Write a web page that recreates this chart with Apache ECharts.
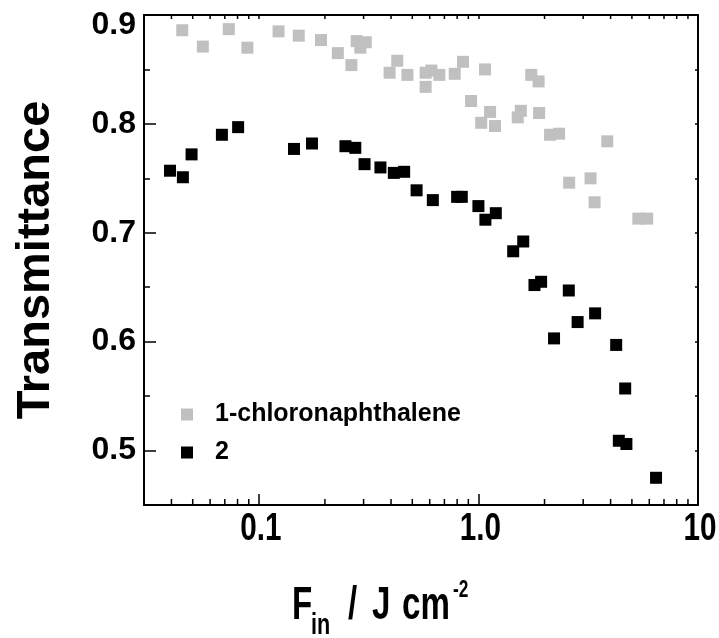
<!DOCTYPE html>
<html>
<head>
<meta charset="utf-8">
<script src="https://cdn.jsdelivr.net/npm/echarts@6/dist/echarts.min.js"></script>
<style>html,body{margin:0;padding:0;background:#fff;}#c{width:719px;height:638px;}</style>
</head>
<body>
<div id="c"></div>
<script>
// ---- data ----
const seriesNames = ['1-chloronaphthalene', '2'];
const grayX = [0.0448, 0.0556, 0.0730, 0.0887, 0.123, 0.152, 0.192, 0.229, 0.264, 0.279, 0.290, 0.307, 0.394, 0.427, 0.475, 0.575, 0.575, 0.611, 0.664, 0.780, 0.851, 0.926, 1.03, 1.072, 1.13, 1.19, 1.51, 1.56, 1.74, 1.88, 1.89, 2.12, 2.33, 2.59, 3.24, 3.38, 3.86, 5.35, 5.87];
const grayY = [0.886, 0.871, 0.887, 0.870, 0.885, 0.881, 0.877, 0.865, 0.854, 0.876, 0.870, 0.875, 0.847, 0.858, 0.845, 0.847, 0.834, 0.849, 0.845, 0.846, 0.857, 0.821, 0.801, 0.850, 0.811, 0.798, 0.806, 0.812, 0.845, 0.839, 0.810, 0.790, 0.791, 0.746, 0.750, 0.728, 0.784, 0.713, 0.713];
const blackX = [0.0394, 0.0451, 0.0494, 0.0679, 0.0805, 0.1446, 0.1746, 0.248, 0.275, 0.303, 0.358, 0.412, 0.459, 0.523, 0.620, 0.80, 0.84, 1.0, 1.076, 1.20, 1.44, 1.60, 1.80, 1.93, 2.21, 2.58, 2.83, 3.40, 4.24, 4.36, 4.66, 4.72, 6.44];
const blackY = [0.757, 0.751, 0.772, 0.790, 0.797, 0.777, 0.782, 0.7795, 0.778, 0.763, 0.760, 0.755, 0.756, 0.739, 0.730, 0.733, 0.733, 0.7245, 0.712, 0.718, 0.683, 0.692, 0.652, 0.655, 0.603, 0.647, 0.618, 0.626, 0.597, 0.509, 0.557, 0.506, 0.475];
const xTickValues = [0.1, 1, 10];
const xTickLabels = ['0.1', '1.0', '10'];
const yTickValues = [0.5, 0.6, 0.7, 0.8, 0.9];
const yTickLabels = ['0.5', '0.6', '0.7', '0.8', '0.9'];
const xMinorTicks = [0.04, 0.05, 0.06, 0.07, 0.08, 0.09, 0.2, 0.3, 0.4, 0.5, 0.6, 0.7, 0.8, 0.9, 2, 3, 4, 5, 6, 7, 8, 9];

const X_MIN = 0.03, X_MAX = 10, Y_MIN = 0.45, Y_MAX = 0.9;
const FONT = 'Liberation Sans, Arial, sans-serif';

function zip(xs, ys) { return xs.map((x, i) => [x, ys[i]]); }
function yLabel(v) {
  for (let i = 0; i < yTickValues.length; i++) {
    if (Math.abs(v - yTickValues[i]) < 1e-6) {
      return i === yTickValues.length - 1 ? '{top|' + yTickLabels[i] + '}' : yTickLabels[i];
    }
  }
  return '';
}

const chart = echarts.init(document.getElementById('c'), null, {renderer: 'canvas'});
const axisLine = {show: true, onZero: false, lineStyle: {color: '#000', width: 2}};

function minorTickRender(yVal, len) {
  return function (params, api) {
    const p = api.coord([api.value(0), yVal]);
    return {type: 'line', shape: {x1: p[0], y1: p[1], x2: p[0], y2: p[1] + len},
      style: {stroke: '#000', lineWidth: 1.5}, silent: true};
  };
}

chart.setOption({
  animation: false,
  backgroundColor: '#fff',
  grid: {left: 144, right: 21, top: 15, bottom: 133, containLabel: false},
  legend: {
    data: seriesNames,
    orient: 'vertical', left: 176, top: 397, itemGap: 13,
    itemWidth: 12, itemHeight: 12, icon: 'rect',
    textStyle: {fontFamily: FONT, fontWeight: 'bold', fontSize: 25, color: '#000', padding: [0, 0, 0, 17]}
  },
  xAxis: [
    {type: 'log', logBase: 10, min: X_MIN, max: X_MAX, position: 'bottom',
     axisLine: axisLine,
     axisTick: {show: true, inside: true, length: 11, lineStyle: {color: '#000', width: 1.5}},
     splitLine: {show: false},
     axisLabel: {show: false}},
    {type: 'log', logBase: 10, min: X_MIN, max: X_MAX, position: 'top',
     axisLine: axisLine,
     axisTick: {show: true, inside: true, length: 4, lineStyle: {color: '#000', width: 1.5}},
     splitLine: {show: false}, axisLabel: {show: false}}
  ],
  yAxis: [
    {type: 'value', min: Y_MIN, max: Y_MAX, position: 'left',
     axisLine: axisLine,
     axisTick: {show: true, inside: true, length: 12, lineStyle: {color: '#000', width: 1.5}},
     splitLine: {show: false},
     axisLabel: {formatter: yLabel, fontFamily: FONT, fontWeight: 'bold', fontSize: 32, color: '#000', margin: 8,
       rich: {top: {fontFamily: FONT, fontWeight: 'bold', fontSize: 32, color: '#000', padding: [20, 0, 0, 0]}}},
     name: 'Transmittance', nameLocation: 'middle', nameGap: 84,
     nameTextStyle: {fontFamily: FONT, fontWeight: 'bold', fontSize: 47, color: '#000'}},
    {type: 'value', min: Y_MIN, max: Y_MAX, interval: 0.05, position: 'left',
     axisLine: {show: false},
     axisTick: {show: true, inside: true, length: 6, lineStyle: {color: '#000', width: 1.5}},
     splitLine: {show: false}, axisLabel: {show: false}},
    {type: 'value', min: Y_MIN, max: Y_MAX, interval: 0.05, position: 'right',
     axisLine: axisLine,
     axisTick: {show: true, inside: true, length: 3, lineStyle: {color: '#000', width: 1.5}},
     splitLine: {show: false}, axisLabel: {show: false}}
  ],
  series: [
    {name: seriesNames[0], type: 'scatter', symbol: 'rect', symbolSize: 12,
     itemStyle: {color: '#c0c0c0', opacity: 1}, data: zip(grayX, grayY), z: 3},
    {name: seriesNames[1], type: 'scatter', symbol: 'rect', symbolSize: 12,
     itemStyle: {color: '#000', opacity: 1}, data: zip(blackX, blackY), z: 4},
    {type: 'custom', name: 'minorBottom', renderItem: minorTickRender(Y_MIN, -6),
     data: xMinorTicks.map(v => [v]), encode: {x: 0}, silent: true, z: 5, clip: false},
    {type: 'custom', name: 'minorTop', renderItem: minorTickRender(Y_MAX, 4),
     data: xMinorTicks.map(v => [v]), encode: {x: 0}, silent: true, z: 5, clip: false}
  ]
});

// x tick labels: condensed bold text placed at positions given by the axis scale
const graphics = [];
xTickValues.forEach((v, i) => {
  const px = chart.convertToPixel({xAxisIndex: 0}, v);
  graphics.push({type: 'text', id: 'xt' + i, x: px + 2, y: 530, scaleX: 0.78,
    style: {text: xTickLabels[i], font: 'bold 38px ' + FONT, fill: '#000', align: 'center', verticalAlign: 'middle'}});
});
graphics.push(
  {type: 'text', id: 't1', x: 292, y: 606, scaleX: 0.72, style: {text: 'F', font: 'bold 46px ' + FONT, fill: '#000', align: 'left', verticalAlign: 'middle'}},
  {type: 'text', id: 't2', x: 311, y: 626, scaleX: 0.72, style: {text: 'in', font: 'bold 30px ' + FONT, fill: '#000', align: 'left', verticalAlign: 'middle'}},
  {type: 'text', id: 't3', x: 348, y: 606, scaleX: 0.72, style: {text: '/', font: 'bold 46px ' + FONT, fill: '#000', align: 'left', verticalAlign: 'middle'}},
  {type: 'text', id: 't4', x: 372, y: 606, scaleX: 0.72, style: {text: 'J', font: 'bold 46px ' + FONT, fill: '#000', align: 'left', verticalAlign: 'middle'}},
  {type: 'text', id: 't5', x: 402, y: 606, scaleX: 0.72, style: {text: 'cm', font: 'bold 46px ' + FONT, fill: '#000', align: 'left', verticalAlign: 'middle'}},
  {type: 'text', id: 't6', x: 453, y: 590, scaleX: 0.72, style: {text: '-2', font: 'bold 24px ' + FONT, fill: '#000', align: 'left', verticalAlign: 'middle'}}
);
chart.setOption({graphic: graphics});
</script>
</body>
</html>
